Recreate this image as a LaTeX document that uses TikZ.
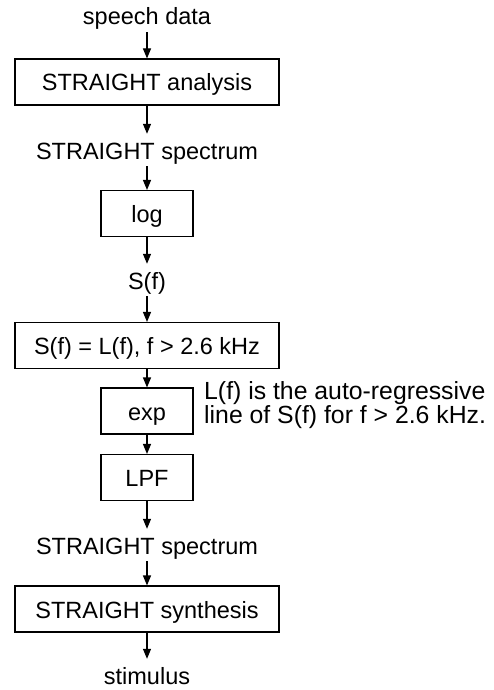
\documentclass[tikz,border=0pt]{standalone}
\usepackage{fontspec}
\setmainfont{Liberation Sans}
\usetikzlibrary{arrows.meta}

\tikzset{
  flowbox/.style={draw=black, line width=1.1pt, inner sep=0pt,
    minimum height=46pt, text height=18pt, text depth=0pt},
  widebox/.style={flowbox, minimum width=264pt},
  narrowbox/.style={flowbox, minimum width=92pt},
  signal/.style={inner sep=0pt, text height=25pt, text depth=7pt, anchor=base},
  noteline/.style={inner sep=0pt, anchor=base west, font=\fontsize{24.8}{28}\selectfont},
  flow/.style={line width=1.1pt, -{Triangle[length=10pt,width=8pt]}},
}

\begin{document}
\begin{tikzpicture}[x=1pt, y=-1pt, font=\fontsize{23.5}{28}\selectfont]
\useasboundingbox (0,0) rectangle (494,690);

% processing chain
\node[signal]    (input)    at (147,25)  {speech data};
\node[widebox]   (analysis) at (147,82)  {STRAIGHT analysis};
\node[signal]    (spec1)    at (147,159) {STRAIGHT spectrum};
\node[narrowbox] (log)      at (147,213.5) {log};
\node[signal]    (sf)       at (147,289) {S(f)};
\node[widebox]   (replace)  at (147,345.5) {S(f) = L(f), f > 2.6 kHz};
\node[narrowbox] (exp)      at (147,411) {exp};
\node[narrowbox] (lpf)      at (147,477.5) {LPF};
\node[signal]    (spec2)    at (147,554) {STRAIGHT spectrum};
\node[widebox]   (synth)    at (147,609) {STRAIGHT synthesis};
\node[signal]    (output)   at (147,684) {stimulus};

% note on the replacement step
\node[noteline] (note1) at (204,399) {L(f) is the auto-regressive};
\node[noteline] (note2) at (204,423) {line of S(f) for f > 2.6 kHz.};

\draw[flow] (input)    -- (analysis);
\draw[flow] (analysis) -- (spec1);
\draw[flow] (spec1)    -- (log);
\draw[flow] (log)      -- (sf);
\draw[flow] (sf)       -- (replace);
\draw[flow] (replace)  -- (exp);
\draw[flow] (exp)      -- (lpf);
\draw[flow] (lpf)      -- (spec2);
\draw[flow] (spec2)    -- (synth);
\draw[flow] (synth)    -- (output);
\end{tikzpicture}
\end{document}
